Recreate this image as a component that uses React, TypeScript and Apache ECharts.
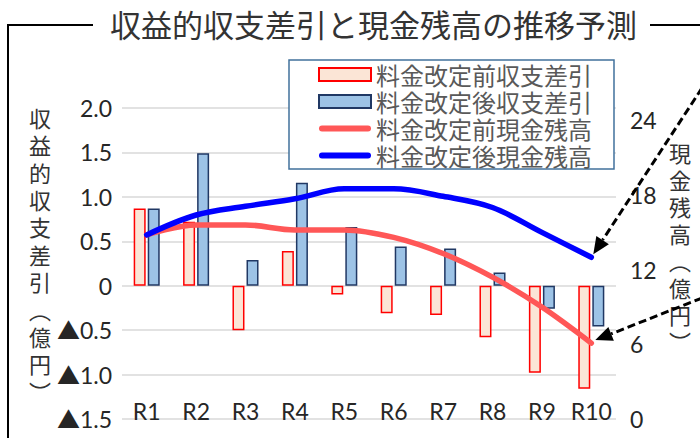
import React, { useEffect, useRef } from 'react';
import * as echarts from 'echarts';

const categories = ['R1', 'R2', 'R3', 'R4', 'R5', 'R6', 'R7', 'R8', 'R9', 'R10'];
const balanceBefore = [0.87, 0.72, -0.5, 0.39, -0.1, -0.31, -0.33, -0.58, -0.98, -1.16];
const balanceAfter = [0.87, 1.49, 0.29, 1.16, 0.66, 0.44, 0.42, 0.15, -0.26, -0.46];
const cashBefore = [14.8, 15.6, 15.6, 15.2, 15.2, 14.6, 13.3, 11.4, 9.0, 6.1];
const cashAfter = [14.8, 16.4, 17.1, 17.7, 18.5, 18.5, 17.9, 17.0, 15.0, 13.0];
const seriesNames = ['料金改定前収支差引', '料金改定後収支差引', '料金改定前現金残高', '料金改定後現金残高'];
const titleText = '収益的収支差引と現金残高の推移予測';
const leftAxisName = ['収', '益', '的', '収', '支', '差', '引', '︵', '億', '円', '︶'];
const rightAxisName = ['現', '金', '残', '高', '︵', '億', '円', '︶'];
const leftRange = [-1.5, 2.0];
const leftInterval = 0.5;
const rightRange = [0, 25];
const rightInterval = 6;

const NUM_FONT = "Lato, 'Noto Sans', 'Noto Sans CJK JP', sans-serif";
const CJK_FONT = "'Noto Sans CJK JP', sans-serif";
const LINE_ICON = 'path://M3,0 L49,0 A3,3 0 0 1 49,6 L3,6 A3,3 0 0 1 3,0 Z';

function arrow(start: number[], tip: number[]) {
  const dx = tip[0] - start[0];
  const dy = tip[1] - start[1];
  const len = Math.hypot(dx, dy);
  const ux = dx / len, uy = dy / len;
  const headLen = 17, headW = 7.5;
  const bx = tip[0] - ux * headLen, by = tip[1] - uy * headLen;
  const nx = -uy, ny = ux;
  return [
    {
      type: 'line', z: 100,
      shape: { x1: start[0], y1: start[1], x2: bx, y2: by },
      style: { stroke: '#000', lineWidth: 3, lineDash: [8, 4] },
    },
    {
      type: 'polygon', z: 100,
      shape: { points: [[tip[0], tip[1]], [bx + nx * headW, by + ny * headW], [bx - nx * headW, by - ny * headW]] },
      style: { fill: '#000' },
    },
  ];
}

export default function App() {
  const ref = useRef<HTMLDivElement>(null);
  useEffect(() => {
    if (!ref.current) return;
    const chart = echarts.init(ref.current, undefined, { renderer: 'svg' });
    const option: any = {
      animation: false,
      backgroundColor: '#fff',
      title: {
        text: titleText,
        left: 110,
        top: 6,
        padding: 0,
        textStyle: { fontFamily: CJK_FONT, fontSize: 31, fontWeight: 'normal', color: '#333', lineHeight: 34 },
      },
      legend: {
        orient: 'vertical',
        left: 289,
        top: 60,
        padding: [1, 22, 0, 29],
        itemGap: 0,
        itemWidth: 52,
        itemHeight: 13,
        backgroundColor: '#fff',
        borderColor: '#41719C',
        borderWidth: 1.5,
        textStyle: { fontFamily: CJK_FONT, fontSize: 24, color: '#595959', lineHeight: 27 },
        data: [
          { name: seriesNames[0], icon: 'rect' },
          { name: seriesNames[1], icon: 'rect' },
          { name: seriesNames[2], icon: LINE_ICON },
          { name: seriesNames[3], icon: LINE_ICON },
        ],
      },
      grid: { left: 122, right: 84, top: 108, bottom: 19 },
      xAxis: {
        type: 'category',
        data: categories,
        axisLine: { show: false },
        axisTick: { show: false },
        axisLabel: { interval: 0, inside: true, margin: -3, fontFamily: NUM_FONT, fontSize: 23, color: '#262626' },
      },
      yAxis: [
        {
          type: 'value',
          min: leftRange[0],
          max: leftRange[1],
          interval: leftInterval,
          axisLine: { show: false },
          axisTick: { show: false },
          splitLine: { lineStyle: { color: '#D9D9D9', width: 1.5 } },
          axisLabel: {
            margin: 10,
            fontFamily: NUM_FONT,
            fontSize: 23,
            color: '#262626',
            formatter: (v: number) => (Math.abs(v) < 1e-9 ? '0' : v < 0 ? '▲' + Math.abs(v).toFixed(1) : v.toFixed(1)),
          },
        },
        {
          type: 'value',
          min: rightRange[0],
          max: rightRange[1],
          interval: rightInterval,
          axisLine: { show: false },
          axisTick: { show: false },
          splitLine: { show: false },
          axisLabel: { margin: 14, fontFamily: NUM_FONT, fontSize: 23, color: '#262626', showMaxLabel: false },
        },
      ],
      series: [
        {
          name: seriesNames[0],
          type: 'bar',
          data: balanceBefore,
          barWidth: 12,
          barGap: '17%',
          itemStyle: { color: '#FBE5D6', borderColor: '#FF0000', borderWidth: 1.5 },
        },
        {
          name: seriesNames[1],
          type: 'bar',
          data: balanceAfter,
          barWidth: 12,
          itemStyle: { color: '#9DC3E6', borderColor: '#203864', borderWidth: 1.5 },
        },
        {
          name: seriesNames[2],
          type: 'line',
          yAxisIndex: 1,
          data: cashBefore,
          smooth: 0.35,
          symbol: 'none',
          lineStyle: { color: '#FF5757', width: 5.5, cap: 'round', join: 'round' },
          itemStyle: { color: '#FF5757' },
          z: 3,
        },
        {
          name: seriesNames[3],
          type: 'line',
          yAxisIndex: 1,
          data: cashAfter,
          smooth: 0.35,
          symbol: 'none',
          lineStyle: { color: '#0000FF', width: 5.5, cap: 'round', join: 'round' },
          itemStyle: { color: '#0000FF' },
          z: 4,
        },
      ],
    };
    chart.setOption(option);

    const last = categories.length - 1;
    const pBlue = chart.convertToPixel({ xAxisIndex: 0, yAxisIndex: 1 }, [categories[last], cashAfter[last]]) as number[];
    const pRed = chart.convertToPixel({ xAxisIndex: 0, yAxisIndex: 1 }, [categories[last], cashBefore[last]]) as number[];

    const graphic: any[] = [
      { type: 'line', shape: { x1: 8, y1: 25, x2: 8, y2: 440 }, style: { stroke: '#000', lineWidth: 2 }, z: 50 },
      { type: 'line', shape: { x1: 7, y1: 25, x2: 93, y2: 25 }, style: { stroke: '#000', lineWidth: 2 }, z: 50 },
      { type: 'line', shape: { x1: 650, y1: 25, x2: 702, y2: 25 }, style: { stroke: '#000', lineWidth: 2 }, z: 50 },
      {
        type: 'text', x: 40, y: 103, z: 50,
        style: { text: leftAxisName.join('\n'), fontFamily: CJK_FONT, fontSize: 22, lineHeight: 27.4, fill: '#333', align: 'center', verticalAlign: 'top' },
      },
      {
        type: 'text', x: 680, y: 138, z: 50,
        style: { text: rightAxisName.join('\n'), fontFamily: CJK_FONT, fontSize: 22, lineHeight: 27, fill: '#333', align: 'center', verticalAlign: 'top' },
      },
      ...arrow([702, 88], [pBlue[0] + 2, pBlue[1] - 3]),
      ...arrow([702, 298], [pRed[0] + 4, pRed[1] - 3]),
    ];
    chart.setOption({ graphic });

    return () => chart.dispose();
  }, []);
  return <div ref={ref} style={{ position: 'absolute', left: 0, top: 0, width: 700, height: 438 }} />;
}
